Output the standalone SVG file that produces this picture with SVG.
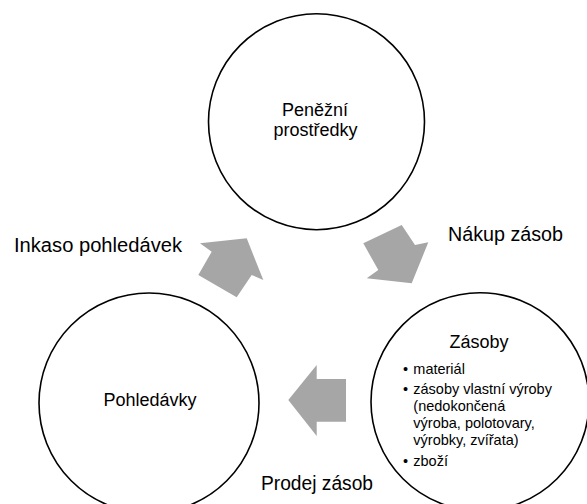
<svg xmlns="http://www.w3.org/2000/svg" width="587" height="504" viewBox="0 0 587 504">
<style>
.node{fill:#ffffff;stroke:#000000;stroke-width:1.6}
.t{font-family:"Liberation Sans",Arial,sans-serif;fill:#000000}
.n{font-size:18px;text-anchor:middle}
.l{font-size:19.5px}
.b{font-size:14.5px}
.arrow{fill:#a6a6a6;stroke:none}
</style>
<rect width="587" height="504" fill="#ffffff"/>
<g id="connectors">
<polygon class="arrow" points="200,243.3 246.7,238.3 263.3,280 251.7,275 236.7,297.3 198.3,275 211.7,251.7"/>
<polygon class="arrow" points="401.7,225 415,245 428.3,242.3 411.7,283.3 366.7,278.3 378.3,270 363.3,243.3"/>
<polygon class="arrow" points="288.3,400 316.7,365 316.7,379 346,379 346,421.7 316.7,421.7 316.7,436"/>
<text class="t l" x="14" y="252" textLength="168" lengthAdjust="spacingAndGlyphs">Inkaso pohledávek</text>
<text class="t l" x="448" y="241" textLength="115" lengthAdjust="spacingAndGlyphs">Nákup zásob</text>
<text class="t l" x="261" y="490" textLength="112" lengthAdjust="spacingAndGlyphs">Prodej zásob</text>
</g>
<g id="node-penezni">
<circle class="node" cx="316.5" cy="121.7" r="108"/>
<text class="t n" x="315" y="116">Peněžní</text>
<text class="t n" x="315.5" y="136">prostředky</text>
</g>
<g id="node-pohledavky">
<circle class="node" cx="149" cy="403" r="110"/>
<text class="t n" x="150" y="406">Pohledávky</text>
</g>
<g id="node-zasoby">
<circle class="node" cx="480" cy="401.7" r="109"/>
<text class="t n" x="479" y="348">Zásoby</text>
<g class="t b">
<text x="403" y="374">•</text>
<text x="413.3" y="374">materiál</text>
<text x="403" y="394">•</text>
<text x="413.3" y="394">zásoby vlastní výroby</text>
<text x="413.3" y="411">(nedokončená</text>
<text x="413.3" y="428">výroba, polotovary,</text>
<text x="413.3" y="445">výrobky, zvířata)</text>
<text x="403" y="466">•</text>
<text x="413.3" y="466">zboží</text>
</g>
</g>
</svg>
